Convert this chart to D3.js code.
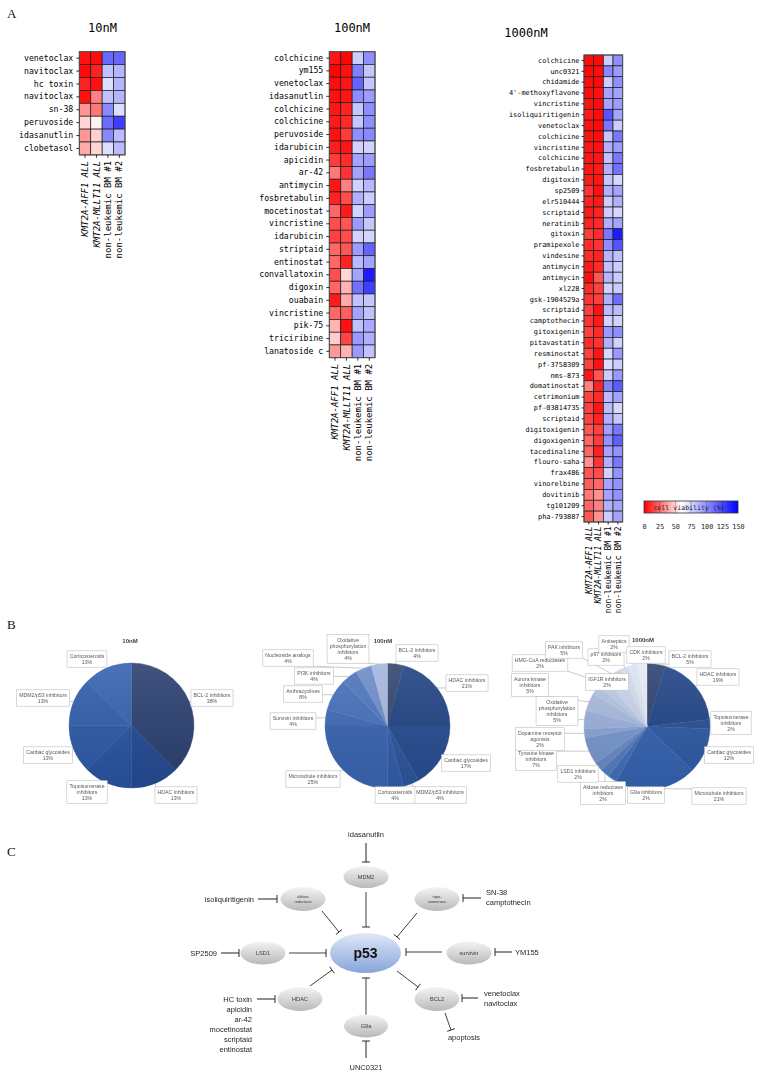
<!DOCTYPE html>
<html><head><meta charset="utf-8">
<script src="https://d3js.org/d3.v7.min.js"></script>
<style>html,body{margin:0;padding:0;background:#fff}svg{display:block}.gray{opacity:0.999;will-change:opacity}</style>
</head><body>
<svg id="fig" width="763" height="1075" xmlns="http://www.w3.org/2000/svg"></svg>
<script>
// ================= DATA =================
const columns = ["KMT2A-AFF1 ALL", "KMT2A-MLLT11 ALL", "non-leukemic BM #1", "non-leukemic BM #2"];

const drugs10 = ["venetoclax","navitoclax","hc toxin","navitoclax","sn-38","peruvoside","idasanutlin","clobetasol"];
const viab10 = [
  [4,3,113,114],[2,8,82,86],[8,4,72,86],[4,30,82,86],
  [35,28,102,72],[50,57,112,128],[35,49,102,84],[40,50,72,84]
];

const drugs100 = ["colchicine","ym155","venetoclax","idasanutlin","colchicine","colchicine","peruvoside","idarubicin",
  "apicidin","ar-42","antimycin","fosbretabulin","mocetinostat","vincristine","idarubicin","striptaid","entinostat",
  "convallatoxin","digoxin","ouabain","vincristine","pik-75","triciribine","lanatoside c"];
const viab100 = [
  [5,1,78,100],[1,4,105,80],[3,5,115,80],[4,5,100,95],[5,8,80,100],[6,10,80,100],[4,14,100,102],[7,5,76,76],
  [14,10,92,95],[28,12,92,108],[5,30,76,85],[8,18,88,78],[24,6,76,95],[18,20,95,80],[15,18,76,75],[24,20,95,115],
  [24,8,85,92],[18,50,92,140],[24,42,110,128],[6,40,82,80],[24,22,92,82],[42,4,82,90],[48,16,96,88],[36,42,96,82]
];

const drugs1000 = ["colchicine","unc0321","chidamide","4'-methoxyflavone","vincristine","isoliquiritigenin","venetoclax",
  "colchicine","vincristine","colchicine","fosbretabulin","digitoxin","sp2509","elr510444","scriptaid","neratinib",
  "gitoxin","pramipexole","vindesine","antimycin","antimycin","xl228","gsk-1904529a","scriptaid","camptothecin",
  "gitoxigenin","pitavastatin","resminostat","pf-3758309","nms-873","domatinostat","cetrimonium","pf-03814735",
  "scriptaid","digitoxigenin","digoxigenin","tacedinaline","flouro-saha","frax486","vinorelbine","dovitinib",
  "tg101209","pha-793887"];
const viab1000 = [
  [3,2,78,100],[2,3,102,95],[3,2,78,100],[3,4,92,92],[4,3,92,95],[6,3,120,92],[4,2,108,78],
  [4,3,80,108],[5,4,88,95],[5,5,82,108],[5,6,88,110],[6,5,80,74],[12,4,88,92],[8,6,78,88],[6,8,78,75],[8,10,88,92],
  [14,10,108,140],[10,12,100,120],[10,8,86,82],[6,10,82,78],[3,20,86,78],[10,15,76,78],[12,15,88,112],[15,4,84,84],[12,6,76,76],
  [15,10,96,100],[10,12,88,76],[15,5,74,96],[15,4,72,78],[5,20,78,96],[30,8,104,118],[15,10,84,92],[15,5,84,74],
  [15,8,88,80],[20,15,94,108],[24,14,98,116],[24,8,92,98],[34,12,88,108],[20,18,76,98],[22,24,92,98],[28,34,92,98],
  [24,30,88,92],[20,34,78,92]
];

const legendTicks = [0,25,50,75,100,125,150];

const pie10Cats = ["BCL-2 inhibitors","HDAC inhibitors","Topoisomerase inhibitors","Cardiac glycosides","MDM2/p53 inhibitors","Corticosteroids"];
const pie10Counts = [3,1,1,1,1,1];

const pie100Cats = ["BCL-2 inhibitors","HDAC inhibitors","Cardiac glycosides","MDM2/p53 inhibitors","Corticosteroids",
  "Microtubule inhibitors","Survivin inhibitors","Anthracyclines","PI3K inhibitors","Nucleoside analogs","Oxidative phosphorylation inhibitors"];
const pie100Counts = [1,5,4,1,1,6,1,2,1,1,1];

const pie1000Cats = ["BCL-2 inhibitors","HDAC inhibitors","Topoisomerase inhibitors","Cardiac glycosides","Microtubule inhibitors",
  "G9a inhibitors","Aldose reductase inhibitors","LSD1 inhibitors","Tyrosine kinase inhibitors","Dopamine receptor agonists",
  "Oxidative phosphorylation inhibitors","Aurora kinase inhibitors","IGF1R inhibitors","HMG-CoA reductases","PAK inhibitors",
  "p97 inhibitors","Antiseptics","CDK inhibitors"];
const pie1000Counts = [2,8,1,5,9,1,1,1,3,1,2,2,1,1,2,1,1,1];

// ================= DRAW =================
const svg = d3.select("#fig");
const defs = svg.append("defs");
const MONO = "DejaVu Sans Mono";
const SANS = "Liberation Sans";
const color = d3.scaleLinear().domain([0,60,150]).range(["#ff0000","#ffffff","#0000ff"]).clamp(true);

svg.append("rect").attr("width",763).attr("height",1075).attr("fill","#fff");

function panelLetter(t,x,y){
  svg.append("text").attr("x",x).attr("y",y).attr("font-family","Liberation Serif").attr("font-size",13).attr("fill","#111").text(t);
}
panelLetter("A",7,18); panelLetter("B",7,629); panelLetter("C",7,856);

function heatmap(o){
  const g = svg.append("g");
  const W = o.cw*columns.length, H = o.ch*o.drugs.length;
  const x = d3.scaleBand().domain(d3.range(columns.length)).range([o.x0,o.x0+W]);
  const y = d3.scaleBand().domain(d3.range(o.drugs.length)).range([o.y0,o.y0+H]);
  const cells = o.values.flatMap((row,i)=>row.map((v,j)=>({i,j,v})));
  g.selectAll("rect.cell").data(cells).join("rect").attr("class","cell")
    .attr("x",d=>x(d.j)).attr("y",d=>y(d.i)).attr("width",x.bandwidth()).attr("height",y.bandwidth())
    .attr("fill",d=>color(d.v)).attr("stroke","#1c1c1c").attr("stroke-width",0.7);
  g.append("rect").attr("x",o.x0).attr("y",o.y0).attr("width",W).attr("height",H)
    .attr("fill","none").attr("stroke","#555").attr("stroke-width",1);
  const ya = g.append("g").attr("transform",`translate(${o.x0},0)`)
    .call(d3.axisLeft(y).tickSize(o.tick).tickPadding(o.pad).tickFormat(i=>o.drugs[i]));
  ya.select(".domain").remove();
  ya.attr("font-family",MONO).attr("font-size",o.rowFont);
  ya.selectAll("line").attr("stroke","#000").attr("stroke-width",0.8);
  ya.selectAll("text").attr("fill","#000");
  const xa = g.append("g").attr("transform",`translate(0,${o.y0+H})`)
    .call(d3.axisBottom(x).tickSize(o.tick).tickFormat(j=>columns[j]));
  xa.select(".domain").remove();
  xa.attr("font-family",MONO).attr("font-size",o.colFont);
  xa.selectAll("line").attr("stroke","#000").attr("stroke-width",0.8);
  xa.selectAll("text").attr("transform","rotate(-90)").attr("text-anchor","end")
    .attr("x",-(o.tick+o.pad)).attr("y",0).attr("dy","0.35em")
    .attr("font-style",j=>j<2?"italic":"normal").attr("fill","#000")
    .style("white-space","pre");
  g.append("text").attr("x",o.tx).attr("y",o.ty).attr("text-anchor","middle")
    .attr("font-family",MONO).attr("font-size",12).attr("fill","#000").text(o.title);
}

heatmap({drugs:drugs10, values:viab10, x0:79.3, y0:51.7, cw:11.43, ch:12.9, tick:3, pad:3, rowFont:8.2, colFont:9, title:"10nM", tx:102.5, ty:32});
heatmap({drugs:drugs100, values:viab100, x0:329.3, y0:51.7, cw:11.43, ch:12.75, tick:3, pad:3, rowFont:8.2, colFont:9, title:"100nM", tx:352, ty:32});
heatmap({drugs:drugs1000, values:viab1000, x0:584, y0:55, cw:9.67, ch:10.86, tick:2.5, pad:2, rowFont:6.9, colFont:8, title:"1000nM", tx:526, ty:37});

// ---- legend ----
(function(){
  const lx = d3.scaleLinear().domain([0,150]).range([644,738]);
  const gid = "legGrad";
  const lg = defs.append("linearGradient").attr("id",gid).attr("x1","0%").attr("x2","100%");
  d3.range(0,151,10).forEach(v=>lg.append("stop").attr("offset",(v/150*100)+"%").attr("stop-color",color(v)));
  const g = svg.append("g");
  g.append("rect").attr("x",lx(0)).attr("y",501).attr("width",lx(150)-lx(0)).attr("height",12)
    .attr("fill",`url(#${gid})`).attr("stroke","#333").attr("stroke-width",0.8);
  g.selectAll("line.lt").data(legendTicks.slice(1,-1)).join("line").attr("class","lt")
    .attr("x1",d=>lx(d)).attr("x2",d=>lx(d)).attr("y1",501).attr("y2",513).attr("stroke","#333").attr("stroke-width",0.6).attr("opacity",0.6);
  g.append("text").attr("x",lx(72)).attr("y",509.5).attr("text-anchor","middle").attr("font-family",MONO)
    .attr("font-size",6.6).attr("fill","#222").style("white-space","pre").text("cell viability (%)");
  const ax = g.append("g").attr("transform","translate(0,513)")
    .call(d3.axisBottom(lx).tickValues(legendTicks).tickSize(0).tickPadding(11).tickFormat(d3.format("d")));
  ax.select(".domain").remove();
  ax.attr("font-family",MONO).attr("font-size",6.8);
  ax.selectAll("text").attr("fill","#222");
})();

// ---- pies ----
const shade = defs.append("linearGradient").attr("id","pieShade").attr("x1","0").attr("y1","0").attr("x2","0").attr("y2","1");
shade.append("stop").attr("offset","0%").attr("stop-color","#fff").attr("stop-opacity",0.10);
shade.append("stop").attr("offset","100%").attr("stop-color","#000").attr("stop-opacity",0.06);

function pieChart(o){
  const total = d3.sum(o.counts);
  const arcs = d3.pie().sort(null).value(d=>d)(o.counts);
  const arc = d3.arc().innerRadius(0).outerRadius(o.r);
  const n = o.counts.length;
  const cs = d3.scaleLinear().domain(o.stops.map(s=>s[0])).range(o.stops.map(s=>s[1])).interpolate(d3.interpolateRgb);
  const col = i => (i===0 ? o.first : cs(i/(n-1)));
  const g = svg.append("g").attr("class","gray");
  const pg = g.append("g").attr("transform",`translate(${o.cx},${o.cy})`);
  pg.selectAll("path").data(arcs).join("path").attr("d",arc)
    .attr("fill",(d,i)=>col(i)).attr("stroke",(d,i)=>col(i)).attr("stroke-width",0.4);
  pg.append("circle").attr("r",o.r).attr("fill","url(#pieShade)");
  g.append("text").attr("x",o.tx).attr("y",o.ty).attr("text-anchor","middle").attr("font-family",SANS)
    .attr("font-weight","bold").attr("font-size",6).attr("fill","#404040").text(o.title);
  const FS = 5.2, LH = 6.2, PX = 2.6, PY = 2.0;
  const lineG = g.append("g"), boxG = g.append("g");
  arcs.forEach((a,i)=>{
    const L = o.labels[i];
    const maxW = L[2] || 60;
    const lab = boxG.append("g");
    const rect = lab.append("rect");
    const txt = lab.append("text").attr("font-family",SANS).attr("font-size",FS).attr("fill","#595959").attr("text-anchor","middle");
    const words = o.cats[i].split(" ");
    const lines = [];
    let cur = "";
    const probe = txt.append("tspan");
    words.forEach(w=>{
      const test = cur ? cur+" "+w : w;
      probe.text(test);
      if (probe.node().getComputedTextLength() > maxW && cur){ lines.push(cur); cur = w; }
      else cur = test;
    });
    lines.push(cur);
    probe.remove();
    lines.push(Math.round(o.counts[i]/total*100)+"%");
    const h = lines.length*LH + 2*PY;
    const top = L[1]-h/2;
    let wmax = 0;
    lines.forEach((ln,k)=>{
      const ts = txt.append("tspan").attr("x",L[0]).attr("y",top+PY+LH*(k+0.5)+FS*0.36).text(ln);
      wmax = Math.max(wmax, ts.node().getComputedTextLength());
    });
    const w = wmax + 2*PX;
    const bx = L[0]-w/2, by = top;
    rect.attr("x",bx).attr("y",by).attr("width",w).attr("height",h).attr("fill","#fff").attr("stroke","#bfbfbf").attr("stroke-width",0.6);
    const ang = (a.startAngle+a.endAngle)/2;
    const px = o.cx + Math.sin(ang)*o.r, py = o.cy - Math.cos(ang)*o.r;
    const qx = Math.max(bx, Math.min(bx+w, px)), qy = Math.max(by, Math.min(by+h, py));
    if (!(qx===px && qy===py)){
      lineG.append("line").attr("x1",px).attr("y1",py).attr("x2",qx).attr("y2",qy)
        .attr("stroke","#a6a6a6").attr("stroke-width",0.6);
    }
  });
}

pieChart({cats:pie10Cats, counts:pie10Counts, cx:131.5, cy:725.5, r:62.5, title:"10nM", tx:130, ty:643,
  first:"#2c4070", stops:[[0,"#1f4285"],[0.5,"#2b56a3"],[1,"#3663b1"]],
  labels:[[212,698],[176,795],[87,792,40],[48,755],[43,698],[87,659]]});

pieChart({cats:pie100Cats, counts:pie100Counts, cx:387.5, cy:726, r:62.5, title:"100nM", tx:383, ty:643,
  first:"#34466f", stops:[[0,"#1c3b76"],[0.45,"#3560ad"],[0.85,"#5178c0"],[1,"#a5b6dc"]],
  labels:[[417,653],[467,683],[466,763],[440,795],[395,795],[313,779],[293,721],[303,694],[314,676],[288,658],[348,649,45]]});

pieChart({cats:pie1000Cats, counts:pie1000Counts, cx:647, cy:726.5, r:63, title:"1000nM", tx:643, ty:642,
  first:"#2f4272", stops:[[0,"#1c3c7a"],[0.25,"#3463b1"],[0.6,"#9db2da"],[1,"#e6eaf4"]],
  labels:[[690,659],[718,677],[731,723,40],[729,755],[719,796],[646,795],[603,793,45],[578,774],[536,759,45],
    [540,739,50],[557,711,45],[530,685,40],[607,682],[540,663],[564,650],[606,657],[614,644],[646,655]]});

// ---- network (panel C) ----
const netNodes = [
  {id:"p53", x:365.5, y:953, rx:35.5, ry:20, lines:["p53"], fs:14, big:true},
  {id:"MDM2", x:366, y:877, rx:22.5, ry:11, lines:["MDM2"], fs:5.6},
  {id:"aldose", x:303, y:899, rx:22.5, ry:12, lines:["aldose","reductase"], fs:3.9},
  {id:"topo", x:437, y:899, rx:22.5, ry:12, lines:["topo-","isomerase"], fs:3.9},
  {id:"LSD1", x:263, y:953, rx:22.5, ry:11.5, lines:["LSD1"], fs:5.6},
  {id:"survivin", x:469, y:953, rx:22.5, ry:11.5, lines:["survivin"], fs:5.6},
  {id:"HDAC", x:300, y:999, rx:22.5, ry:12, lines:["HDAC"], fs:5.6},
  {id:"BCL2", x:437, y:999, rx:22.5, ry:12, lines:["BCL2"], fs:5.6},
  {id:"G9a", x:366, y:1026, rx:22, ry:11.5, lines:["G9a"], fs:5.6}
];
const netEdges = [
  [366,843,366,862,"d"],[366,892,366,927,"n"],
  [258,899,277,899,"d"],[322,911,339,932,"n"],
  [481,898,463,898,"d"],[417,913,397,937,"n"],
  [221,953,239,953,"d"],[289,953,326,953,"n"],
  [512,952,495,952,"d"],[442,952,406,952,"n"],
  [257,999,275,999,"d"],[310,986,332,970,"n"],
  [478,998,462,998,"d"],[397,971,418,987,"n"],
  [445,1013,451,1030,"n"],
  [366,1015,366,978,"n"],[366,1058,366,1041,"d"]
];
const netTexts = [
  {t:["idasanutlin"], x:366, y:834, a:"middle"},
  {t:["isoliquiritigenin"], x:254, y:899, a:"end"},
  {t:["SN-38","camptothecin"], x:486, y:892, a:"start"},
  {t:["SP2509"], x:217, y:953, a:"end"},
  {t:["YM155"], x:515, y:952, a:"start"},
  {t:["HC toxin","apicidin","ar-42","mocetinostat","scriptaid","entinostat"], x:252, y:999, a:"end"},
  {t:["venetoclax","navitoclax"], x:484, y:993, a:"start"},
  {t:["apoptosis"], x:464, y:1037, a:"middle"},
  {t:["UNC0321"], x:366, y:1067, a:"middle"}
];

(function(){
  const gg = defs.append("linearGradient").attr("id","nodeGray").attr("x1","0").attr("y1","0").attr("x2","0").attr("y2","1");
  gg.append("stop").attr("offset","0%").attr("stop-color","#f4f4f4");
  gg.append("stop").attr("offset","100%").attr("stop-color","#b9b9b9");
  const gb = defs.append("linearGradient").attr("id","nodeBlue").attr("x1","0").attr("y1","0").attr("x2","0").attr("y2","1");
  gb.append("stop").attr("offset","0%").attr("stop-color","#dfe8f6");
  gb.append("stop").attr("offset","100%").attr("stop-color","#87a5da");
  const g = svg.append("g").attr("class","gray");
  netEdges.forEach(e=>{
    const [x1,y1,x2,y2,k] = e;
    const stroke = k==="d" ? "#6b6b6b" : "#2a2a2a";
    const sw = k==="d" ? 1.5 : 0.9;
    g.append("line").attr("x1",x1).attr("y1",y1).attr("x2",x2).attr("y2",y2).attr("stroke",stroke).attr("stroke-width",sw);
    const dx = x2-x1, dy = y2-y1, len = Math.hypot(dx,dy);
    const nx = -dy/len*4, ny = dx/len*4;
    g.append("line").attr("x1",x2-nx).attr("y1",y2-ny).attr("x2",x2+nx).attr("y2",y2+ny)
      .attr("stroke","#2a2a2a").attr("stroke-width",1);
  });
  netNodes.forEach(nd=>{
    g.append("ellipse").attr("cx",nd.x).attr("cy",nd.y).attr("rx",nd.rx).attr("ry",nd.ry)
      .attr("fill",nd.big?"url(#nodeBlue)":"url(#nodeGray)");
    const t = g.append("text").attr("text-anchor","middle").attr("font-family",SANS)
      .attr("font-size",nd.fs).attr("fill",nd.big?"#111":"#3a3a3a").attr("font-weight",nd.big?"bold":"normal");
    const lh = nd.fs*1.25;
    nd.lines.forEach((ln,k)=>{
      t.append("tspan").attr("x",nd.x).attr("y",nd.y + (k-(nd.lines.length-1)/2)*lh + nd.fs*0.35).text(ln);
    });
  });
  netTexts.forEach(tt=>{
    const t = g.append("text").attr("text-anchor",tt.a).attr("font-family",SANS).attr("font-size",7.5).attr("fill","#262626");
    tt.t.forEach((ln,k)=>t.append("tspan").attr("x",tt.x).attr("y",tt.y+k*10+2.7).text(ln));
  });
})();
</script>
</body></html>
